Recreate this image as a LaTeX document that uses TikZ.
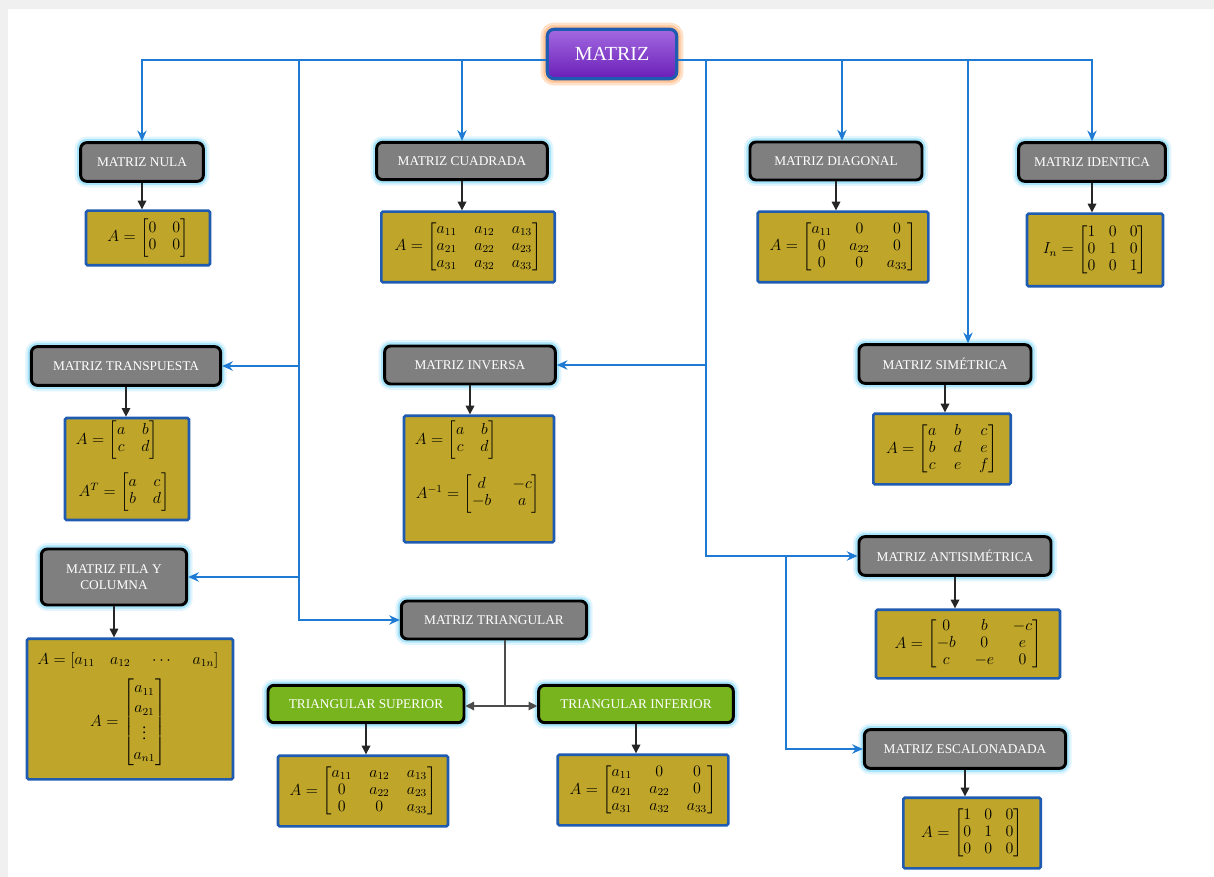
\documentclass[tikz,border=0pt]{standalone}
\usepackage{amsmath}
\usepackage{fontspec}
\setmainfont{Liberation Serif}
\usetikzlibrary{arrows.meta,calc}
\definecolor{greyfill}{HTML}{7F7F7F}
\definecolor{glow}{HTML}{A8E4FA}
\definecolor{gold}{HTML}{BFA52A}
\definecolor{bord}{HTML}{1F5BB0}
\definecolor{linkblue}{HTML}{1E7AD2}
\definecolor{greenfill}{HTML}{78B41E}
\definecolor{purpTop}{HTML}{A36AE0}
\definecolor{purpBot}{HTML}{6A1EB8}
\definecolor{orangeglow}{HTML}{FFC596}
\newcommand{\mymat}[3][6pt]{{\setlength{\arraycolsep}{#1}\renewcommand{\arraystretch}{#2}\begin{bmatrix}#3\end{bmatrix}}}
\tikzset{
  cbox/.style={draw=black, line width=2.2pt, fill=greyfill, rounded corners=4.5pt, text=white,
    font=\fontsize{10}{11.5}\selectfont, align=center, inner sep=2pt,
    preaction={draw=glow, line width=9pt, opacity=0.35},
    preaction={draw=glow, line width=5.5pt}},
  gbox/.style={cbox, fill=greenfill},
  mainbox/.style={draw=bord, line width=2.4pt, rounded corners=5pt, top color=purpTop, bottom color=purpBot,
    text=white, font=\fontsize{15}{17}\selectfont,
    preaction={draw=orangeglow, line width=10pt, opacity=0.5},
    preaction={draw=orangeglow, line width=6pt}},
  mathbox/.style={draw=bord, line width=2pt, fill=gold, rounded corners=1.2pt, inner sep=0pt,
    font=\fontsize{11.5}{13.5}\selectfont},
  txt/.style={inner sep=0pt, font=\fontsize{11.5}{13.5}\selectfont},
  link/.style={draw=linkblue, line width=1.6pt, -{Stealth[length=8pt,width=7pt]}},
  blk/.style={draw=black!85, line width=0.9pt, -{Triangle[length=6.5pt,width=6.5pt]}},
  tline/.style={draw=black!70, line width=0.9pt}
}
\begin{document}
\begin{tikzpicture}[x=0.75pt,y=-0.75pt]
\useasboundingbox (0,0) rectangle (1214,877);
\fill[black!6] (0,0) rectangle (1214,877);
\fill[white] (8,9) rectangle (1214,877);

% title
\node[mainbox, minimum width=97pt, minimum height=37pt] (matriz) at (612,54) {MATRIZ};

% category boxes
\node[cbox, minimum width=92pt, minimum height=29pt] (nula) at (142,162) {MATRIZ NULA};
\node[cbox, minimum width=128pt, minimum height=28pt] (cuad) at (462,161) {MATRIZ CUADRADA};
\node[cbox, minimum width=129pt, minimum height=28.5pt] (diag) at (836,161) {MATRIZ DIAGONAL};
\node[cbox, minimum width=110pt, minimum height=29pt] (iden) at (1092,162) {MATRIZ IDENTICA};
\node[cbox, minimum width=142pt, minimum height=29pt] (trans) at (126,366) {MATRIZ TRANSPUESTA};
\node[cbox, minimum width=128pt, minimum height=28.5pt] (inv) at (470,365) {MATRIZ INVERSA};
\node[cbox, minimum width=129pt, minimum height=29pt] (sim) at (945,364) {MATRIZ SIMÉTRICA};
\node[cbox, minimum width=109pt, minimum height=42pt] (fila) at (114,577) {MATRIZ FILA Y\\COLUMNA};
\node[cbox, minimum width=139pt, minimum height=28.5pt] (triang) at (494,620) {MATRIZ TRIANGULAR};
\node[cbox, minimum width=144pt, minimum height=29pt] (anti) at (955,556) {MATRIZ ANTISIMÉTRICA};
\node[cbox, minimum width=151pt, minimum height=29pt] (esc) at (965,749) {MATRIZ ESCALONADADA};
\node[gbox, minimum width=147pt, minimum height=28pt] (sup) at (366,704) {TRIANGULAR SUPERIOR};
\node[gbox, minimum width=146pt, minimum height=28pt] (inf) at (636,704) {TRIANGULAR INFERIOR};

% formula boxes
\node[mathbox, minimum width=93pt, minimum height=41pt] (nulaF) at (148,238) {$A=\mymat[6pt]{0.95}{0&0\\0&0}$};
\node[mathbox, minimum width=130pt, minimum height=53pt] (cuadF) at (468,247) {$A=\mymat[6.5pt]{0.95}{a_{11}&a_{12}&a_{13}\\a_{21}&a_{22}&a_{23}\\a_{31}&a_{32}&a_{33}}$};
\node[mathbox, minimum width=128pt, minimum height=53pt] (diagF) at (843,247) {$A=\mymat[6.5pt]{0.95}{a_{11}&0&0\\0&a_{22}&0\\0&0&a_{33}}$};
\node[mathbox, minimum width=102pt, minimum height=54.5pt] (idenF) at (1095,250) {$I_n=\mymat[5pt]{0.95}{1&0&0\\0&1&0\\0&0&1}$};
\node[mathbox, minimum width=93pt, minimum height=76.5pt] (transF) at (127,469) {};
\node[txt] (transA) at (117,440) {$A=\mymat[6pt]{0.95}{a&b\\c&d}$};
\node[txt] (transT) at (124,492) {$A^T=\mymat[6pt]{0.95}{a&c\\b&d}$};
\node[mathbox, minimum width=112.5pt, minimum height=95pt] (invF) at (479,479) {};
\node[txt] (invA) at (456,440) {$A=\mymat[6pt]{0.95}{a&b\\c&d}$};
\node[txt] (invI) at (478,494) {$A^{-1}=\mymat[8pt]{0.95}{d&-c\\-b&a}$};
\node[mathbox, minimum width=103pt, minimum height=53pt] (simF) at (942,449) {$A=\mymat[6.5pt]{0.95}{a&b&c\\b&d&e\\c&e&f}$};
\node[mathbox, minimum width=154.5pt, minimum height=105.5pt] (filaF) at (130,709) {};
\node[txt] (filaR) at (128,660) {$A=[a_{11}\quad a_{12}\quad\ \cdots\ \quad a_{1n}]$};
\node[txt] (filaC) at (128,722) {$A=\mymat[3pt]{1.12}{a_{11}\\a_{21}\\\vdots\\a_{n1}}$};
\node[mathbox, minimum width=127.5pt, minimum height=53pt] (supF) at (363,791) {$A=\mymat[6.5pt]{0.95}{a_{11}&a_{12}&a_{13}\\0&a_{22}&a_{23}\\0&0&a_{33}}$};
\node[mathbox, minimum width=128pt, minimum height=53pt] (infF) at (643,790) {$A=\mymat[6.5pt]{0.95}{a_{11}&0&0\\a_{21}&a_{22}&0\\a_{31}&a_{32}&a_{33}}$};
\node[mathbox, minimum width=138pt, minimum height=51.5pt] (antiF) at (968,644) {$A=\mymat[7pt]{0.95}{0&b&-c\\-b&0&e\\c&-e&0}$};
\node[mathbox, minimum width=103pt, minimum height=53pt] (escF) at (972,833) {$A=\mymat[5pt]{0.95}{1&0&0\\0&1&0\\0&0&0}$};

% blue connectors
\coordinate (yTop) at (0,60);
\coordinate (vL) at (299,60);
\coordinate (vR) at (706,60);
\coordinate (xD) at (842,60);
\coordinate (xS) at (968,60);
\coordinate (vE) at (786,556);
\draw[link] (matriz.west |- yTop) -| (nula.north);
\draw[link] (matriz.west |- yTop) -| (cuad.north);
\draw[link] (vL) |- (triang.west);
\draw[link] (vL |- trans.east) -- (trans.east);
\draw[link] (vL |- fila.east) -- (fila.east);
\draw[link] (matriz.east |- yTop) -| (iden.north);
\draw[link] (xD) -- (xD |- diag.north);
\draw[link] (xS) -- (xS |- sim.north);
\draw[link] (vR) |- (anti.west);
\draw[link] (vR |- inv.east) -- (inv.east);
\draw[link] (vE) |- (esc.west);

% black arrows
\draw[blk] (nula.south) -- (nula.south |- nulaF.north);
\draw[blk] (cuad.south) -- (cuad.south |- cuadF.north);
\draw[blk] (diag.south) -- (diag.south |- diagF.north);
\draw[blk] (iden.south) -- (iden.south |- idenF.north);
\draw[blk] (trans.south) -- (trans.south |- transF.north);
\draw[blk] (inv.south) -- (inv.south |- invF.north);
\draw[blk] (sim.south) -- (sim.south |- simF.north);
\draw[blk] (fila.south) -- (fila.south |- filaF.north);
\draw[blk] (anti.south) -- (anti.south |- antiF.north);
\draw[blk] (esc.south) -- (esc.south |- escF.north);
\draw[blk] (sup.south) -- (sup.south |- supF.north);
\draw[blk] (inf.south) -- (inf.south |- infF.north);

% triangular split
\coordinate (tj) at (505,706);
\draw[tline] (triang.south -| tj) -- (tj);
\draw[tline, {Triangle[length=6.5pt,width=6.5pt]}-{Triangle[length=6.5pt,width=6.5pt]}] (sup.east |- tj) -- (inf.west |- tj);
\end{tikzpicture}
\end{document}
